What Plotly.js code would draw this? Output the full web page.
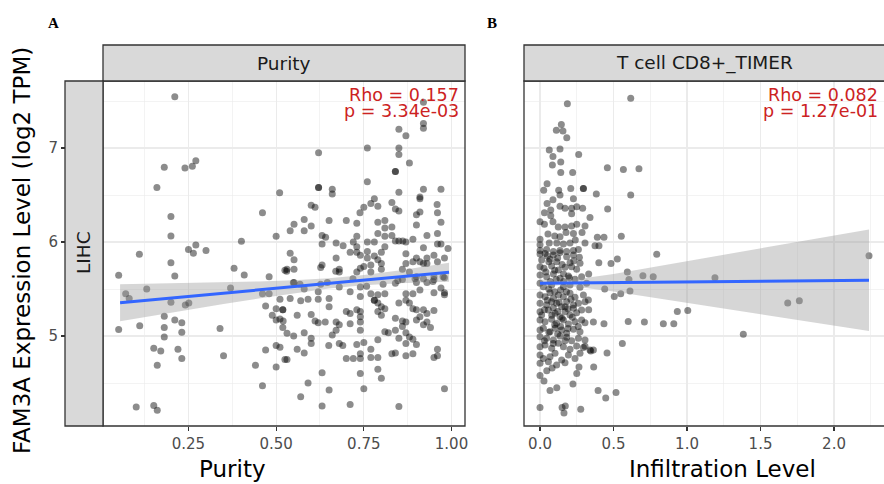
<!DOCTYPE html>
<html>
<head>
<meta charset="utf-8">
<script src="https://cdn.plot.ly/plotly-3.0.1.min.js"></script>
<style>html,body{margin:0;padding:0;background:#fff;}#chart{width:884px;height:484px;}</style>
</head>
<body>
<div id="chart"></div>
<script>
// ---------------- DATA ----------------
const panelTitles = ["Purity", "T cell CD8+_TIMER"];
const rowLabel = "LIHC";
const statsA = ["Rho = 0.157", "p = 3.34e-03"];
const statsB = ["Rho = 0.082", "p = 1.27e-01"];
const xTitleA = "Purity";
const xTitleB = "Infiltration Level";
const yTitle = "FAM3A Expression Level (log2 TPM)";
const xTicksA = [0.25, 0.5, 0.75, 1.0];
const xTickTextA = ["0.25", "0.50", "0.75", "1.00"];
const xTicksB = [0, 0.5, 1.0, 1.5, 2.0];
const xTickTextB = ["0.0", "0.5", "1.0", "1.5", "2.0"];
const yTicks = [5, 6, 7];
const yTickText = ["5", "6", "7"];

// Panel A: purity vs expression
const purityX = [
0.211,0.271,0.181,0.240,0.261,0.160,0.510,0.200,0.461,0.200,0.500,0.401,0.271,0.250,0.300,0.264,0.110,
0.200,0.051,0.211,0.380,0.409,0.480,0.525,0.071,0.081,0.131,0.200,0.241,0.251,0.370,0.461,0.480,0.511,0.470,0.500,0.519,0.519,0.489,0.500,0.511,0.519,
0.051,0.111,0.181,0.211,0.231,0.181,0.231,0.181,0.340,0.151,0.171,0.220,0.231,0.161,0.350,0.470,0.500,0.441,0.500,0.525,0.461,0.101,0.151,0.161,
0.920,0.920,0.920,0.850,0.870,0.760,0.850,0.850,0.621,0.880,0.840,0.840,0.760,0.621,0.621,0.660,0.660,0.850,0.920,0.970,0.910,0.910,0.780,0.770,0.750,0.790,0.830,0.840,0.850,0.959,
0.600,0.611,0.739,0.900,0.910,0.960,0.970,0.580,0.551,0.540,0.580,0.600,0.651,0.700,0.730,0.790,0.810,0.810,0.830,0.900,0.790,0.810,0.830,0.930,0.960,0.631,0.641,0.730,
0.631,0.671,0.691,0.720,0.730,0.760,0.780,0.810,0.840,0.850,0.861,0.870,0.890,0.920,0.960,0.970,0.990,0.540,0.711,0.760,
0.551,0.531,0.551,0.631,0.671,0.680,0.730,0.740,0.760,0.780,0.790,0.800,0.730,0.740,0.750,0.770,0.770,0.800,0.800,0.870,0.870,0.890,0.900,0.910,0.920,0.930,0.930,0.950,0.960,0.980,
0.860,0.880,0.900,0.900,0.920,0.950,0.980,0.520,0.531,0.511,0.551,0.540,0.570,0.591,0.580,0.620,0.620,0.560,0.600,0.611,0.620,0.640,0.651,0.651,0.680,0.711,0.740,0.740,0.770,0.780,0.780,
0.790,0.810,0.790,0.800,0.810,0.790,0.800,0.700,0.711,0.730,0.740,0.740,0.740,0.740,0.671,0.680,0.671,0.660,0.711,0.840,0.860,0.870,0.890,0.910,0.930,0.950,0.950,0.970,0.980,
0.850,0.870,0.880,0.890,0.900,0.920,0.930,0.950,0.910,0.930,0.920,0.940,0.900,0.870,0.840,0.860,0.860,0.840,0.870,0.880,0.890,0.870,0.900,0.850,0.810,0.820,0.790,0.840,0.830,0.870,0.890,0.950,0.960,0.960,
0.550,0.580,0.600,0.600,0.560,0.580,0.531,0.650,0.680,0.690,0.730,0.750,0.770,0.700,0.720,0.740,0.740,0.770,0.790,0.790,0.740,0.800,0.631,0.591,0.570,0.651,0.631,0.711,0.750,0.850,0.980,
0.549,0.568,0.530,0.627,0.670,0.680,0.627,0.646,0.719,0.758,0.805,0.847,0.896,0.947,0.976,0.980
];
const purityY = [
7.546,6.865,6.795,6.787,6.805,6.58,6.525,6.27,6.31,6.064,6.06,6.007,5.968,5.92,5.91,5.88,5.87,
5.78,5.646,5.638,5.72,5.65,5.63,5.70,5.45,5.40,5.50,5.36,5.33,5.35,5.51,5.45,5.45,5.39,5.32,5.29,5.28,5.28,5.22,5.17,5.18,5.09,
5.07,5.11,5.21,5.17,5.14,5.09,5.04,4.99,5.08,4.87,4.84,4.86,4.76,4.69,4.79,4.85,4.90,4.69,4.67,4.75,4.47,4.245,4.26,4.21,
7.486,7.26,7.21,7.20,7.13,7.00,7.00,6.93,6.95,6.84,6.75,6.75,6.64,6.58,6.58,6.56,6.51,6.53,6.56,6.56,6.48,6.46,6.46,6.41,6.37,6.38,6.42,6.35,6.33,6.40,
6.39,6.37,6.31,6.29,6.32,6.31,6.21,6.24,6.19,6.12,6.12,6.17,6.23,6.23,6.20,6.21,6.23,6.15,6.16,6.18,6.09,6.06,6.07,6.07,6.09,6.07,6.05,6.06,
5.98,5.99,5.96,6.00,5.95,6.00,6.00,5.95,6.01,6.01,6.01,6.00,6.03,5.94,5.98,5.98,5.93,5.88,5.89,5.90,
5.81,5.71,5.71,5.755,5.83,5.71,5.89,5.86,5.83,5.85,5.81,5.89,5.68,5.72,5.74,5.755,5.68,5.77,5.71,5.875,5.77,5.79,5.83,5.79,5.77,5.77,5.83,5.86,5.79,5.83,
5.71,5.68,5.63,5.57,5.61,5.63,5.62,5.16,5.03,4.88,5.57,5.40,5.375,5.39,5.50,5.39,5.47,5.22,5.23,5.16,5.14,5.15,5.40,5.31,5.52,5.47,5.52,5.42,5.45,5.38,5.38,
5.44,5.45,5.35,5.31,5.29,5.26,5.22,5.26,5.24,5.28,5.26,5.205,5.15,5.06,5.15,5.12,5.06,5.01,5.13,5.56,5.60,5.45,5.45,5.49,5.57,5.60,5.46,5.51,5.44,
5.35,5.38,5.35,5.29,5.28,5.28,5.24,5.27,5.205,5.15,5.12,5.09,5.17,5.15,5.19,5.16,5.10,5.06,5.035,4.99,4.965,4.92,4.91,4.975,5.045,5.035,4.96,4.82,4.81,4.79,4.81,4.77,4.86,4.79,
5.00,5.035,4.975,4.92,4.86,4.82,4.75,4.90,4.92,4.90,4.91,4.93,4.86,4.76,4.76,4.81,4.76,4.77,4.77,4.645,4.60,4.55,4.61,4.50,4.355,4.425,4.255,4.27,4.44,4.25,4.44,
5.567,5.55,5.69,5.73,5.69,5.68,5.55,5.57,5.61,5.53,5.55,5.59,5.61,5.58,5.63,5.46
];

// Panel A fitted line and 95% band
const fitA_x = [0.055, 0.993];
const fitA_y = [5.354, 5.678];
const bandA_x  = [0.055, 0.15, 0.25, 0.35, 0.45, 0.55, 0.65, 0.75, 0.85, 0.993];
const bandA_hi = [5.550, 5.557, 5.563, 5.572, 5.581, 5.594, 5.615, 5.649, 5.698, 5.779];
const bandA_lo = [5.158, 5.217, 5.279, 5.340, 5.399, 5.456, 5.505, 5.539, 5.560, 5.577];

// Panel B: CD8+ T cell infiltration vs expression
const cd8X = [
0.617,0.186,0.145,0.111,0.156,0.182,0.063,0.136,0.088,0.263,0.141,0.084,0.141,0.222,0.458,0.567,0.673,
0.048,0.025,0.127,0.209,0.295,0.295,0.383,0.617,0.048,0.088,0.136,0.136,0.227,0.460,0.340,0.030,0.073,0.073,0.170,0.215,0.215,0.250,0.290,
0.000,0.030,0.088,0.124,0.170,0.215,0.250,0.306,0.286,0.227,0.177,0.054,0.100,0.136,0.000,0.000,0.063,0.114,0.159,0.204,0.240,0.306,0.390,0.435,0.553,0.374,0.401,0.794,
0.000,0.045,0.091,0.136,0.181,0.227,0.261,
0.400,0.483,0.526,0.594,0.605,0.700,0.770,0.331,0.440,0.505,0.549,0.612,0.934,1.005,0.331,0.363,0.435,0.600,0.710,0.839,0.910,
0.560,0.456,0.363,0.345,0.365,0.306,0.265,0.250,0.224,0.395,0.447,0.517,0.000,0.150,0.172,0.163,0.277,0.114,0.068,0.027,0.000,0.046,0.082,
0.000,0.034,0.091,0.136,0.181,0.227,0.268,0.011,0.068,0.113,0.204,0.272,
0.000,0.027,0.079,0.125,0.170,0.215,0.249,
0.000,0.045,0.091,0.136,0.193,0.238,0.283,
0.000,0.023,0.079,0.159,0.204,0.272,0.317,
0.000,0.034,0.068,0.091,0.125,0.159,0.204,0.238,0.295,
0.000,0.045,0.079,0.113,0.147,0.181,0.227,0.261,0.306,0.329,
0.000,0.011,0.057,0.102,0.136,0.170,0.204,0.249,0.283,0.227,
0.000,0.034,0.079,0.113,0.159,0.193,0.238,0.283,0.306,
0.000,0.023,0.068,0.102,0.147,0.181,0.227,0.272,
0.000,0.045,0.091,0.136,0.181,0.215,0.261,0.306,
0.000,0.034,0.079,0.125,0.159,0.204,0.249,0.295,0.340,
0.000,0.023,0.068,0.102,0.147,0.193,0.238,0.272,
0.000,0.057,0.113,0.170,
0.06,0.10,0.14,0.18,0.05,0.09,0.13,0.17,0.21,0.07,0.11,0.16,0.19,0.12,0.08,0.15,0.03,0.10,0.14,0.19,0.06,0.12,0.17,0.09,0.03,0.22,0.26,0.04,0.10,0.16,0.20,0.06,0.15,0.23,0.12,0.05,
1.190,1.383,1.685,1.764,2.238
];
const cd8Y = [
7.53,7.47,7.25,7.19,7.18,7.11,6.98,6.99,6.91,6.93,6.85,6.82,6.74,6.74,6.79,6.77,6.78,
6.62,6.55,6.55,6.57,6.57,6.57,6.51,6.50,6.41,6.45,6.50,6.38,6.46,6.35,6.26,6.31,6.34,6.28,6.36,6.36,6.30,6.375,6.36,
6.215,6.19,6.215,6.16,6.16,6.17,6.19,6.17,6.10,6.09,6.10,6.085,6.064,6.056,6.03,5.97,5.99,5.99,5.98,5.99,6.02,5.99,6.05,6.05,6.06,5.96,5.96,5.87,
5.91,5.92,5.90,5.91,5.90,5.91,5.92,
5.78,5.77,5.82,5.68,5.60,5.64,5.63,5.66,5.50,5.42,5.45,5.48,5.26,5.27,5.28,5.15,5.13,5.155,5.15,5.13,5.13,
4.92,4.82,4.85,4.84,4.67,4.89,4.67,4.60,4.49,4.42,4.34,4.40,4.24,4.24,4.255,4.18,4.22,4.45,4.42,4.52,4.58,4.63,4.66,
5.872,5.879,5.862,5.887,5.844,5.862,5.837,5.809,5.816,5.791,5.780,5.773,
5.738,5.720,5.745,5.702,5.731,5.738,5.709,
5.649,5.631,5.660,5.614,5.638,5.603,5.631,
5.560,5.525,5.543,5.525,5.543,5.518,5.560,
5.436,5.418,5.461,5.401,5.436,5.418,5.454,5.411,5.436,
5.348,5.330,5.365,5.348,5.312,5.365,5.330,5.348,5.365,5.383,
5.259,5.223,5.277,5.241,5.206,5.259,5.223,5.248,5.277,5.294,
5.170,5.152,5.177,5.135,5.170,5.128,5.152,5.170,5.142,
5.064,5.082,5.046,5.082,5.064,5.028,5.071,5.046,
4.993,4.975,4.957,5.000,4.986,4.950,4.975,4.957,
4.886,4.904,4.869,4.922,4.886,4.858,4.894,4.879,4.851,
4.798,4.762,4.780,4.816,4.745,4.798,4.762,4.816,
4.709,4.727,4.691,4.716,
5.50,5.47,5.49,5.47,5.38,5.30,5.36,5.31,5.39,5.58,5.60,5.58,5.29,5.26,5.22,5.19,5.28,5.12,5.10,5.08,5.04,5.02,4.95,4.92,4.95,5.20,5.10,5.68,5.70,5.66,5.62,5.79,5.76,5.80,5.83,5.85,
5.62,5.018,5.35,5.376,5.854
];

// Panel B fitted line and 95% band
const fitB_x = [0.0, 2.238];
const fitB_y = [5.560, 5.593];
const bandB_x  = [0.0, 0.15, 0.5, 1.0, 1.5, 2.0, 2.238];
const bandB_hi = [5.604, 5.582, 5.660, 5.796, 5.932, 6.068, 6.133];
const bandB_lo = [5.516, 5.542, 5.474, 5.354, 5.233, 5.111, 5.053];

// ---------------- LAYOUT HELPERS ----------------
const W = 884, H = 484;
const px = v => v / W;
const py = v => 1 - v / H;

const ptColor = 'rgba(0,0,0,0.45)';
const bandColor = 'rgba(153,153,153,0.4)';
const lineColor = '#3366FF';
const grid = '#EBEBEB';
const dark = '#333333';
const tickCol = '#4D4D4D';
const red = '#CC2222';

function bandTrace(xs, lo, hi, xa, ya) {
  return {
    x: xs.concat(xs.slice().reverse()),
    y: hi.concat(lo.slice().reverse()),
    xaxis: xa, yaxis: ya, type: 'scatter', mode: 'lines',
    fill: 'toself', fillcolor: bandColor, line: {width: 0},
    hoverinfo: 'skip', showlegend: false
  };
}

const traces = [
  {x: purityX, y: purityY, xaxis: 'x', yaxis: 'y', type: 'scatter', mode: 'markers',
   marker: {size: 7, color: ptColor, line: {width: 0}}, showlegend: false},
  bandTrace(bandA_x, bandA_lo, bandA_hi, 'x', 'y'),
  {x: fitA_x, y: fitA_y, xaxis: 'x', yaxis: 'y', type: 'scatter', mode: 'lines',
   line: {color: lineColor, width: 3}, showlegend: false},
  {x: cd8X, y: cd8Y, xaxis: 'x2', yaxis: 'y2', type: 'scatter', mode: 'markers',
   marker: {size: 7, color: ptColor, line: {width: 0}}, showlegend: false},
  bandTrace(bandB_x, bandB_lo, bandB_hi, 'x2', 'y2'),
  {x: fitB_x, y: fitB_y, xaxis: 'x2', yaxis: 'y2', type: 'scatter', mode: 'lines',
   line: {color: lineColor, width: 3}, showlegend: false}
];

const yDomain = [py(426), py(81)];
const yRange = [4.0426, 7.7128];
const baseX = {
  ticks: 'outside', ticklen: 4, tickwidth: 1.1, tickcolor: dark,
  tickfont: {size: 15, color: tickCol, family: 'DejaVu Sans'},
  showgrid: true, gridcolor: grid, gridwidth: 1.1,
  zeroline: false, showline: false, fixedrange: true
};

const layout = {
  width: W, height: H,
  margin: {l: 0, r: 0, t: 0, b: 0},
  paper_bgcolor: '#FFFFFF', plot_bgcolor: '#FFFFFF',
  font: {family: 'DejaVu Sans', color: '#000'},
  showlegend: false,
  xaxis: Object.assign({}, baseX, {
    domain: [px(103), px(465)], range: [0.0063, 1.0385], anchor: 'y',
    tickmode: 'array', tickvals: xTicksA, ticktext: xTickTextA,
    minor: {tickvals: [0.125, 0.375, 0.625, 0.875], showgrid: true, gridcolor: grid, gridwidth: 0.6, ticks: ''}
  }),
  xaxis2: Object.assign({}, baseX, {
    domain: [px(524), 1], range: [-0.109, 2.34], anchor: 'y2',
    tickmode: 'array', tickvals: xTicksB, ticktext: xTickTextB,
    minor: {tickvals: [0.25, 0.75, 1.25, 1.75, 2.25], showgrid: true, gridcolor: grid, gridwidth: 0.6, ticks: ''}
  }),
  yaxis: Object.assign({}, baseX, {
    domain: yDomain, range: yRange, anchor: 'free', position: px(65),
    tickmode: 'array', tickvals: yTicks, ticktext: yTickText,
    minor: {tickvals: [4.5, 5.5, 6.5, 7.5], showgrid: true, gridcolor: grid, gridwidth: 0.6, ticks: ''}
  }),
  yaxis2: Object.assign({}, baseX, {
    domain: yDomain, range: yRange, anchor: 'x2',
    tickmode: 'array', tickvals: yTicks, showticklabels: false, ticks: '',
    minor: {tickvals: [4.5, 5.5, 6.5, 7.5], showgrid: true, gridcolor: grid, gridwidth: 0.6, ticks: ''}
  }),
  shapes: [
    // panel borders
    {type: 'rect', xref: 'paper', yref: 'paper', x0: px(103), x1: px(465), y0: py(426), y1: py(81),
     line: {color: dark, width: 1.3}, fillcolor: 'rgba(0,0,0,0)', layer: 'above'},
    {type: 'rect', xref: 'paper', yref: 'paper', x0: px(524), x1: px(890), y0: py(426), y1: py(81),
     line: {color: dark, width: 1.3}, fillcolor: 'rgba(0,0,0,0)', layer: 'above'},
    // strips
    {type: 'rect', xref: 'paper', yref: 'paper', x0: px(103), x1: px(465), y0: py(81), y1: py(45),
     line: {color: dark, width: 1.3}, fillcolor: '#D9D9D9', layer: 'above'},
    {type: 'rect', xref: 'paper', yref: 'paper', x0: px(524), x1: px(890), y0: py(81), y1: py(45),
     line: {color: dark, width: 1.3}, fillcolor: '#D9D9D9', layer: 'above'},
    {type: 'rect', xref: 'paper', yref: 'paper', x0: px(65), x1: px(103), y0: py(426), y1: py(81),
     line: {color: dark, width: 1.3}, fillcolor: '#D9D9D9', layer: 'above'}
  ],
  annotations: [
    {text: panelTitles[0], xref: 'paper', yref: 'paper', x: px(284), y: py(63), showarrow: false,
     xanchor: 'center', yanchor: 'middle', font: {size: 18.5, color: '#1A1A1A'}},
    {text: panelTitles[1], xref: 'paper', yref: 'paper', x: px(704), y: py(63), showarrow: false,
     xanchor: 'center', yanchor: 'middle', font: {size: 18.5, color: '#1A1A1A'}},
    {text: rowLabel, xref: 'paper', yref: 'paper', x: px(83), y: py(253), showarrow: false,
     textangle: -90, xanchor: 'center', yanchor: 'middle', font: {size: 18.5, color: '#1A1A1A'}},
    {text: statsA[0], xref: 'paper', yref: 'paper', x: px(461), y: py(95), showarrow: false,
     xanchor: 'right', yanchor: 'middle', font: {size: 17.5, color: red}},
    {text: statsA[1], xref: 'paper', yref: 'paper', x: px(461), y: py(111), showarrow: false,
     xanchor: 'right', yanchor: 'middle', font: {size: 17.5, color: red}},
    {text: statsB[0], xref: 'paper', yref: 'paper', x: px(880), y: py(95), showarrow: false,
     xanchor: 'right', yanchor: 'middle', font: {size: 17.5, color: red}},
    {text: statsB[1], xref: 'paper', yref: 'paper', x: px(880), y: py(111), showarrow: false,
     xanchor: 'right', yanchor: 'middle', font: {size: 17.5, color: red}},
    {text: xTitleA, xref: 'paper', yref: 'paper', x: px(232), y: py(469), showarrow: false,
     xanchor: 'center', yanchor: 'middle', font: {size: 23, color: '#000'}},
    {text: xTitleB, xref: 'paper', yref: 'paper', x: px(722), y: py(469), showarrow: false,
     xanchor: 'center', yanchor: 'middle', font: {size: 23, color: '#000'}},
    {text: yTitle, xref: 'paper', yref: 'paper', x: px(22), y: py(251), showarrow: false,
     textangle: -90, xanchor: 'center', yanchor: 'middle', font: {size: 23, color: '#000'}},
    {text: '<b>A</b>', xref: 'paper', yref: 'paper', x: px(53), y: py(23.5), showarrow: false,
     xanchor: 'center', yanchor: 'middle', font: {size: 15, color: '#000', family: 'Liberation Serif'}},
    {text: '<b>B</b>', xref: 'paper', yref: 'paper', x: px(492), y: py(23.5), showarrow: false,
     xanchor: 'center', yanchor: 'middle', font: {size: 15, color: '#000', family: 'Liberation Serif'}}
  ]
};

Plotly.newPlot('chart', traces, layout, {staticPlot: true, displayModeBar: false});
</script>
</body>
</html>
